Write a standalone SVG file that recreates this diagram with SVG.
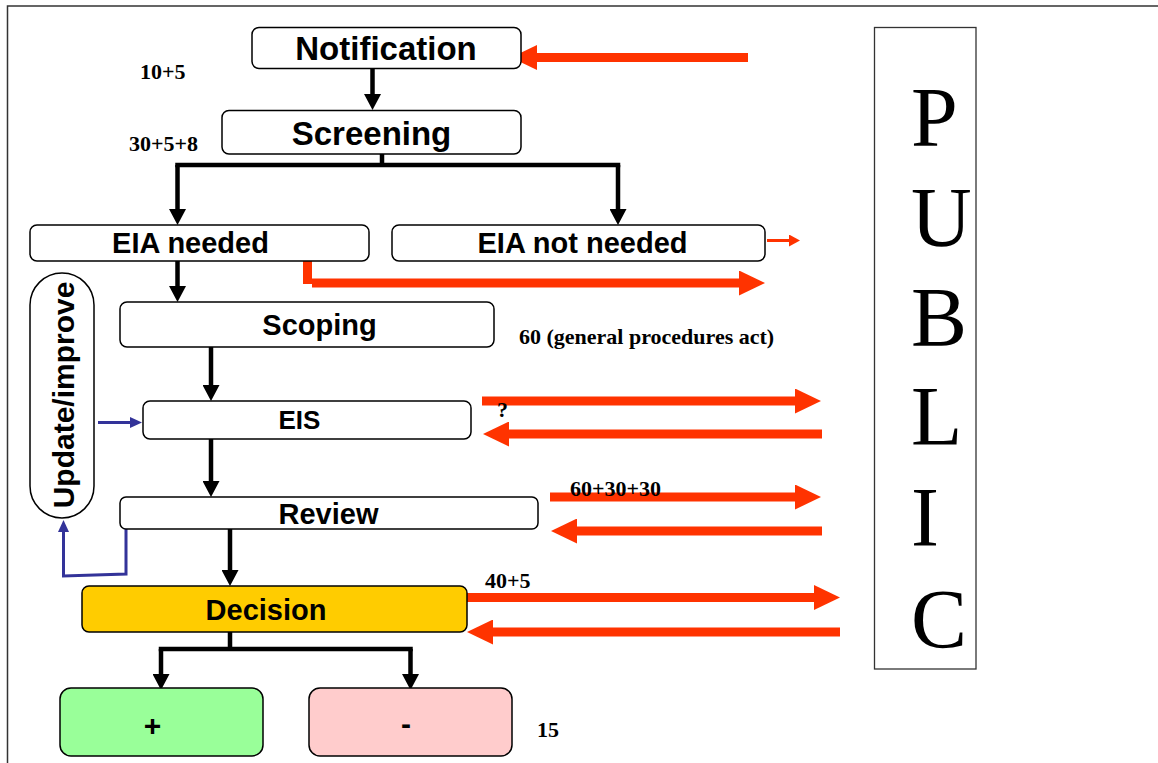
<svg xmlns="http://www.w3.org/2000/svg" width="1158" height="763" viewBox="0 0 1158 763">
  <style>
    .box { fill: #ffffff; stroke: #000000; stroke-width: 1.5; }
    .lbl { font-family: "Liberation Sans", Arial, sans-serif; font-weight: bold; fill: #000000; text-anchor: middle; }
    .num { font-family: "Liberation Serif", "Times New Roman", serif; font-weight: bold; font-size: 22px; fill: #000000; }
    .pub { font-family: "Liberation Serif", "Times New Roman", serif; font-size: 84px; fill: #000000; }
    .flow { fill: none; stroke: #000000; stroke-width: 4.5; }
    .flow-arrow { fill: none; stroke: #000000; stroke-width: 4.5; marker-end: url(#head-black); }
    .public { fill: none; stroke: #ff3300; stroke-width: 9; marker-end: url(#head-red); }
    .public-thin { fill: none; stroke: #ff3300; stroke-width: 3; marker-end: url(#head-red-small); }
    .loop { fill: none; stroke: #333399; stroke-width: 3; marker-end: url(#head-blue); }
  </style>
  <defs>
    <marker id="head-black" markerUnits="userSpaceOnUse" markerWidth="17" markerHeight="17" refX="1" refY="8.5" orient="auto">
      <path d="M0,0 L16,8.5 L0,17 z" fill="#000000"/>
    </marker>
    <marker id="head-red" markerUnits="userSpaceOnUse" markerWidth="27" markerHeight="25" refX="1" refY="12.5" orient="auto">
      <path d="M0,0 L26,12.5 L0,25 z" fill="#ff3300"/>
    </marker>
    <marker id="head-red-small" markerUnits="userSpaceOnUse" markerWidth="11" markerHeight="12" refX="1" refY="6" orient="auto">
      <path d="M0,0 L11,6 L0,12 z" fill="#ff3300"/>
    </marker>
    <marker id="head-blue" markerUnits="userSpaceOnUse" markerWidth="12" markerHeight="11" refX="1" refY="5.5" orient="auto">
      <path d="M0,0 L12,5.5 L0,11 z" fill="#333399"/>
    </marker>
  </defs>

  <rect width="1158" height="763" fill="#ffffff"/>
  <!-- page frame -->
  <path d="M7.5,763 V6 H1158" fill="none" stroke="#333333" stroke-width="1.5"/>

  <g id="connectors">
    <!-- main flow -->
    <path class="flow-arrow" d="M372.5,68 V95"/>
    <path class="flow" d="M382,154 V165 M175.25,165 H620.25"/>
    <path class="flow-arrow" d="M177.5,165 V210"/>
    <path class="flow-arrow" d="M618,165 V210"/>
    <path class="flow-arrow" d="M177.5,261 V287"/>
    <path class="flow-arrow" d="M211,347 V386"/>
    <path class="flow-arrow" d="M211,439 V482"/>
    <path class="flow-arrow" d="M230,529 V571"/>
    <path class="flow" d="M230,632 V649 M158.75,649 H412.75"/>
    <path class="flow-arrow" d="M161,649 V675"/>
    <path class="flow-arrow" d="M410.5,649 V675"/>
    <!-- feedback loop -->
    <path class="loop" d="M98,422.5 H131"/>
    <path class="loop" d="M126,529 V574 L63.5,576 V531"/>
    <!-- exchanges with the public -->
    <path class="public" d="M748,57.5 H536"/>
    <path class="public-thin" d="M767,240.5 H790"/>
    <rect x="303" y="261" width="9" height="23" fill="#ff3300"/>
    <path class="public" d="M312,283 H740"/>
    <path class="public" d="M482,401 H796"/>
    <path class="public" d="M822,434 H508"/>
    <path class="public" d="M550,497 H796"/>
    <path class="public" d="M822,531 H576"/>
    <path class="public" d="M466,597.5 H815"/>
    <path class="public" d="M840,632 H492"/>
  </g>

  <g id="notification">
    <rect class="box" x="252" y="27.5" width="269" height="41" rx="7"/>
    <text class="lbl" x="386" y="60" font-size="33">Notification</text>
  </g>
  <g id="screening">
    <rect class="box" x="222" y="110.5" width="299" height="43.5" rx="7"/>
    <text class="lbl" x="371.5" y="145" font-size="33">Screening</text>
  </g>
  <g id="eia-needed">
    <rect class="box" x="30" y="225" width="339" height="36" rx="7"/>
    <text class="lbl" x="190.5" y="253" font-size="29">EIA needed</text>
  </g>
  <g id="eia-not-needed">
    <rect class="box" x="392" y="225" width="373" height="36" rx="7"/>
    <text class="lbl" x="582.5" y="253" font-size="29">EIA not needed</text>
  </g>
  <g id="scoping">
    <rect class="box" x="120" y="302" width="374" height="45" rx="7"/>
    <text class="lbl" x="319.5" y="335" font-size="29">Scoping</text>
  </g>
  <g id="eis">
    <rect class="box" x="143" y="401" width="328" height="38" rx="7"/>
    <text class="lbl" x="299.5" y="429" font-size="26">EIS</text>
  </g>
  <g id="review">
    <rect class="box" x="120" y="497" width="418" height="32" rx="6"/>
    <text class="lbl" x="328.5" y="524" font-size="29">Review</text>
  </g>
  <g id="decision">
    <rect class="box" x="82" y="586" width="385" height="46" rx="7" style="fill:#ffcc00"/>
    <text class="lbl" x="266" y="620" font-size="29">Decision</text>
  </g>
  <g id="positive">
    <rect class="box" x="60" y="688" width="203" height="68" rx="11" style="fill:#99ff99"/>
    <text class="lbl" x="152.5" y="736" font-size="30">+</text>
  </g>
  <g id="negative">
    <rect class="box" x="309" y="688" width="203" height="68" rx="11" style="fill:#ffcccc"/>
    <text class="lbl" x="406" y="734" font-size="30">-</text>
  </g>
  <g id="update-improve">
    <rect class="box" x="30" y="273" width="64" height="245" rx="32"/>
    <text class="lbl" font-size="30" transform="translate(73.5,395) rotate(-90)">Update/improve</text>
  </g>
  <g id="public">
    <rect x="874.5" y="27.5" width="101.5" height="641.5" fill="#ffffff" stroke="#333333" stroke-width="1.3"/>
    <text class="pub" x="911" y="146">P</text>
    <text class="pub" x="911" y="246">U</text>
    <text class="pub" x="911" y="346">B</text>
    <text class="pub" x="911" y="445">L</text>
    <text class="pub" x="911" y="546">I</text>
    <text class="pub" x="911" y="648">C</text>
  </g>

  <g id="durations">
    <text class="num" x="140" y="79">10+5</text>
    <text class="num" x="129" y="151">30+5+8</text>
    <text class="num" x="519" y="344">60 (general procedures act)</text>
    <text class="num" x="497" y="417" font-size="20">?</text>
    <text class="num" x="570" y="496">60+30+30</text>
    <text class="num" x="485" y="588">40+5</text>
    <text class="num" x="537" y="737">15</text>
  </g>
</svg>
